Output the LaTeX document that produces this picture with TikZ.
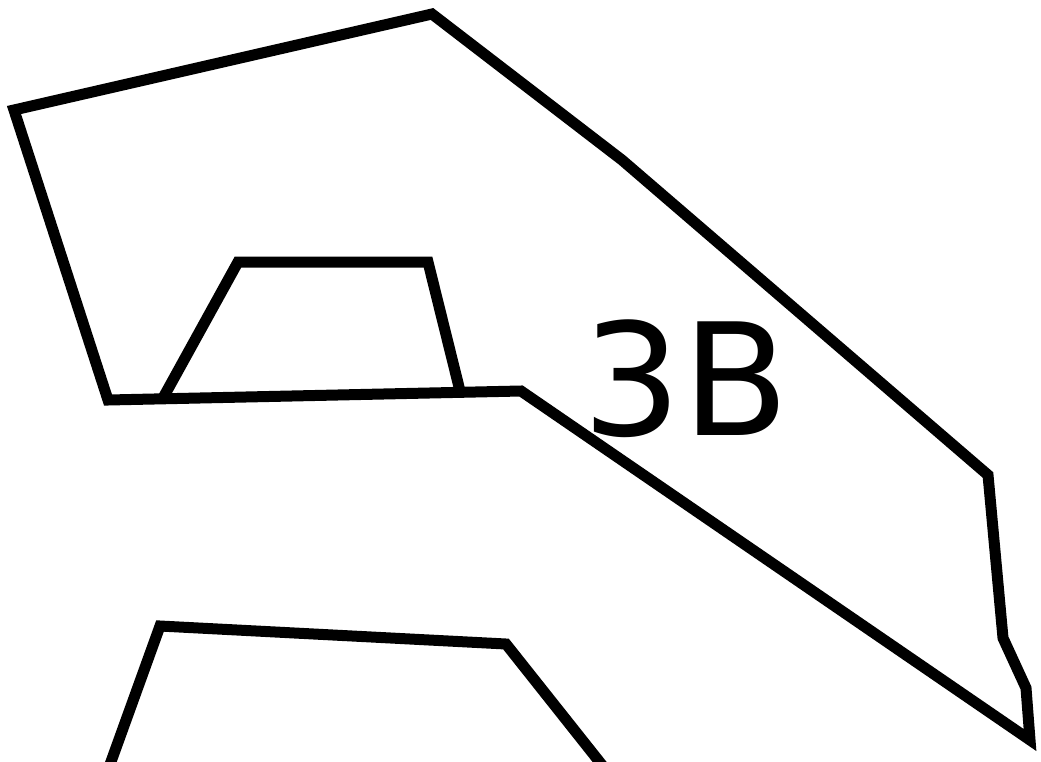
\documentclass[tikz,border=0pt]{standalone}
\usepackage{fontspec}
\setmainfont{DejaVu Sans}
\begin{document}
\begin{tikzpicture}[x=1pt,y=-1pt,
  outline/.style={draw=black,line width=11pt,line join=miter},
  lbl/.style={font=\fontsize{156}{160}\selectfont,inner sep=0pt,anchor=base}]
\useasboundingbox (0,0) rectangle (1041,761);
\coordinate (p1) at (14,110);
\coordinate (p2) at (432,14);
\coordinate (p3) at (622,160);
\coordinate (p4) at (988,475);
\coordinate (p5) at (1003,638);
\coordinate (p6) at (1026,688);
\coordinate (p7) at (1030,740);
\coordinate (p8) at (521,391);
\coordinate (p9) at (108,400);
\draw[outline] (p1) -- (p2) -- (p3) -- (p4) -- (p5) -- (p6) -- (p7) -- (p8) -- (p9) -- cycle;
\coordinate (t1) at (163,398);
\coordinate (t2) at (238,262);
\coordinate (t3) at (428,262);
\coordinate (t4) at (460,391);
\draw[outline] (t1) -- (t2) -- (t3) -- (t4);
\coordinate (b1) at (108,770);
\coordinate (b2) at (160,626);
\coordinate (b3) at (506,644);
\coordinate (b4) at (606,770);
\draw[outline] (b1) -- (b2) -- (b3) -- (b4);
\node[lbl] (label) at (686,435) {3B};
\end{tikzpicture}
\end{document}
